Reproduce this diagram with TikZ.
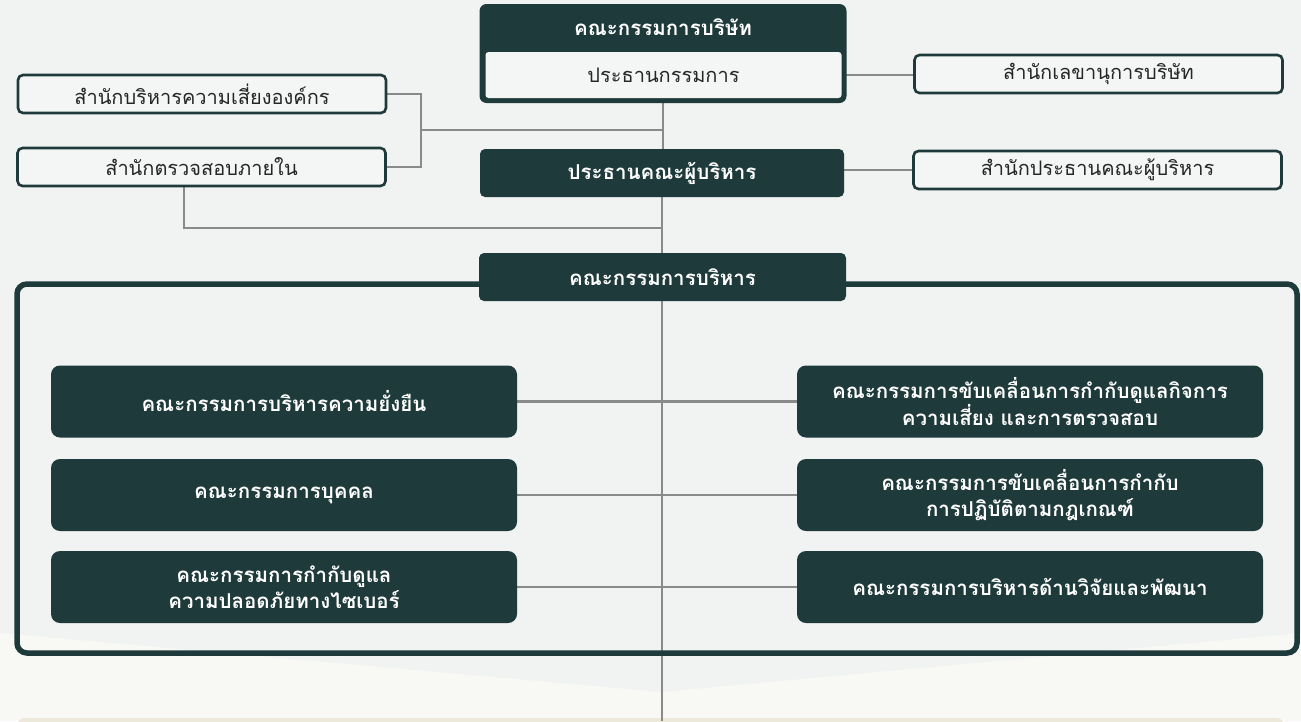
\documentclass[tikz,border=0pt]{standalone}
\usepackage{fontspec}
\newfontfamily\thaifont[Script=Thai]{Loma}
\usetikzlibrary{positioning,backgrounds}
\definecolor{darkteal}{HTML}{1E3A3A}
\definecolor{pagebg}{HTML}{F1F3F2}
\definecolor{pagelow}{HTML}{F8F9F5}
\definecolor{pagestrip}{HTML}{ECE9DA}
\definecolor{wiregray}{HTML}{8A8A8A}
\definecolor{boxlight}{HTML}{F4F5F5}
\tikzset{
	officebox/.style={draw=darkteal, line width=2.6pt, fill=boxlight, rounded corners=5pt,
		minimum width=368pt, minimum height=38pt, inner sep=0pt,
		text=black!85, font=\thaifont\fontsize{20}{24}\selectfont},
	chiefbox/.style={fill=darkteal, rounded corners=5pt, minimum width=364pt, minimum height=48pt,
		inner sep=0pt, text=white, font=\thaifont\bfseries\fontsize{20.5}{24}\selectfont},
	cttbox/.style={fill=darkteal, rounded corners=9pt, minimum width=466pt, minimum height=72pt,
		inner sep=0pt, align=center, text=white, font=\thaifont\bfseries\fontsize{20.5}{26}\selectfont},
	wire/.style={draw=wiregray, line width=2.6pt},
}
\begin{document}
\begin{tikzpicture}[x=1pt,y=-1pt]
		\useasboundingbox (0,0) rectangle (1301,721);

		% Define nodes
		\node[fill=darkteal, rounded corners=7pt, minimum width=367pt, minimum height=99pt] (board) at (663,53.5) {};
		\node[text=white, font=\thaifont\bfseries\fontsize{20.5}{24}\selectfont] (boardtitle) at (663,27) {คณะกรรมการบริษัท};
		\node[fill=boxlight, rounded corners=3pt, minimum width=356pt, minimum height=46pt, inner sep=0pt,
			text=black!85, font=\thaifont\fontsize{20}{24}\selectfont] (chair) at (663.5,75) {ประธานกรรมการ};
		\node[officebox] (secretary) at (1098.5,74) {สำนักเลขานุการบริษัท};
		\node[chiefbox] (ceo) at (662,173) {ประธานคณะผู้บริหาร};
		\node[officebox] (ceooffice) at (1097.5,170) {สำนักประธานคณะผู้บริหาร};
		\node[officebox] (risk) at (202,94) {สำนักบริหารความเสี่ยงองค์กร};
		\node[officebox] (audit) at (201.5,167) {สำนักตรวจสอบภายใน};

		\node[draw=darkteal, line width=5.5pt, rounded corners=10pt, minimum width=1280pt, minimum height=369pt] (frame) at (657,468.5) {};
		\node[chiefbox, minimum width=367pt] (exec) at (662.5,277) {คณะกรรมการบริหาร};

		\node[cttbox] (sustain) at (284,401.5) {คณะกรรมการบริหารความยั่งยืน};
		\node[cttbox] (people) at (284,495) {คณะกรรมการบุคคล};
		\node[cttbox] (cyber) at (284,587) {คณะกรรมการกำกับดูแล\\ความปลอดภัยทางไซเบอร์};
		\node[cttbox] (govern) at (1030,401.5) {คณะกรรมการขับเคลื่อนการกำกับดูแลกิจการ\\ความเสี่ยง และการตรวจสอบ};
		\node[cttbox] (comply) at (1030,495) {คณะกรรมการขับเคลื่อนการกำกับ\\การปฏิบัติตามกฎเกณฑ์};
		\node[cttbox] (research) at (1030,587) {คณะกรรมการบริหารด้านวิจัยและพัฒนา};

		\coordinate (officejoin) at (421,130);
		\coordinate (auditfoot) at (184,228);
		\coordinate (pagefoot) at (662,721);

		% Connect the nodes
		\begin{scope}[on background layer]
			\fill[pagebg] (0,0) rectangle (1301,721);
			\fill[pagelow] (0,633) -- (661,692) -- (1301,633) -- (1301,721) -- (0,721) -- cycle;
			\fill[pagestrip, rounded corners=6pt] (18,718) rectangle (1283,740);
			\draw[wire] (board.south) -- (board.south |- ceo.north);
			\draw[wire] (ceo.south) -- (pagefoot);
			\draw[wire] (chair.east) -- (chair.east -| secretary.west);
			\draw[wire] (ceooffice.west -| ceo.east) -- (ceooffice.west);
			\draw[wire] (risk.east) -| (officejoin) |- (audit.east);
			\draw[wire] (officejoin) -- (officejoin -| board.south);
			\draw[wire] (audit.south -| auditfoot) -- (auditfoot) -- (auditfoot -| ceo.south);
			\draw[wire] (sustain.east) -- (govern.west);
			\draw[wire] (people.east) -- (comply.west);
			\draw[wire] (cyber.east) -- (research.west);
		\end{scope}
	\end{tikzpicture}
\end{document}
